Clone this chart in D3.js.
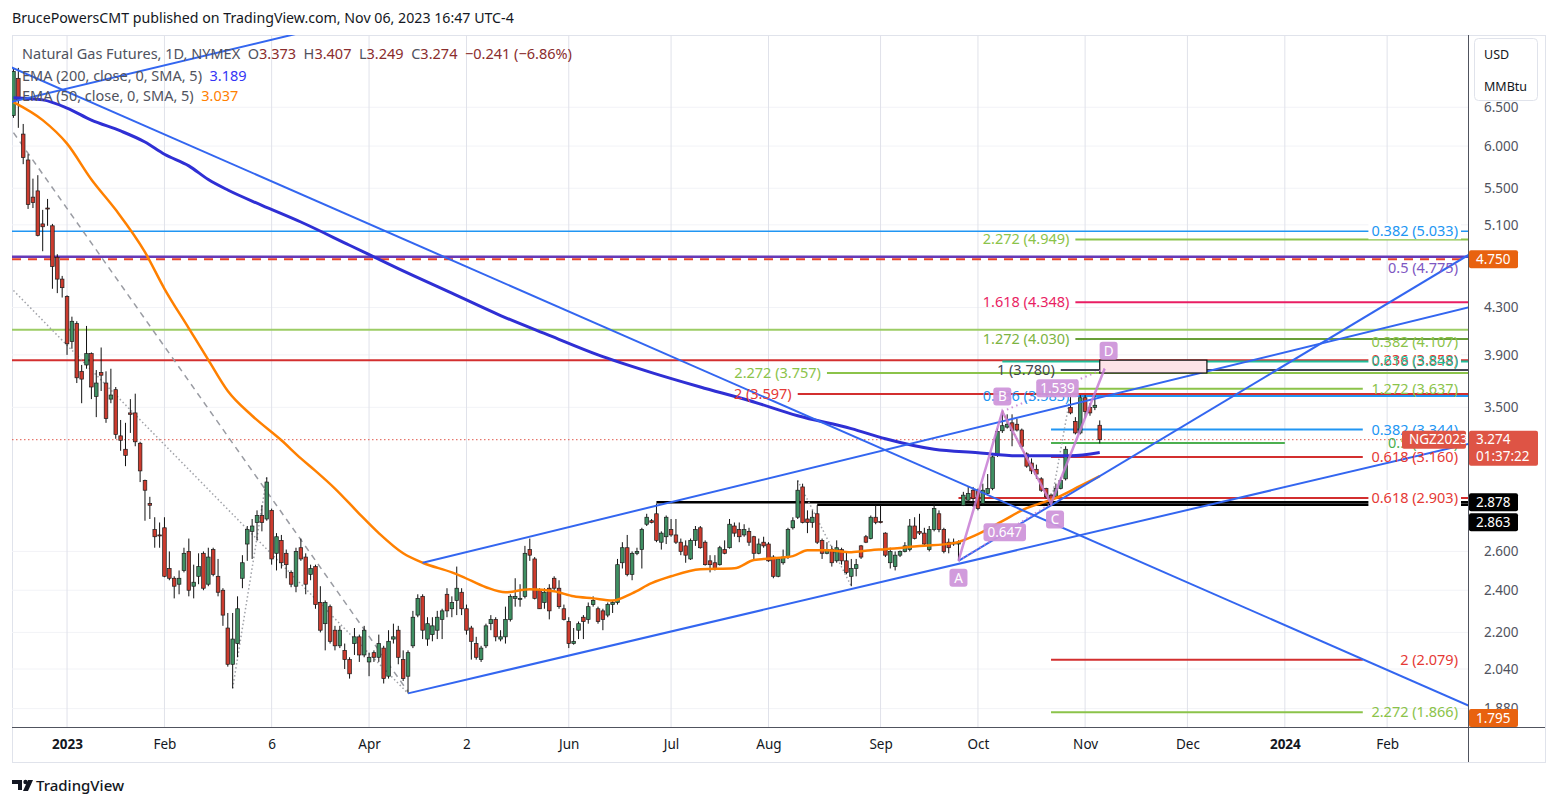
<!DOCTYPE html>
<html><head><meta charset="utf-8">
<script src="https://cdn.jsdelivr.net/npm/d3@7"></script>
<style>body{margin:0;background:#fff;}svg{display:block;}</style>
</head><body>
<svg id="c" width="1556" height="807"></svg>
<script>
// ---------------- DATA ----------------
const holidays = ["2022-12-26","2023-01-02","2023-01-16","2023-02-20","2023-04-07","2023-05-29","2023-06-19","2023-07-04","2023-09-04","2023-11-23","2023-12-25","2024-01-01","2024-01-15","2024-02-19"];
const firstDay = "2022-12-15", lastCalendarDay = "2024-03-15";

const open = [6.39,6.90,6.15,5.83,5.40,5.47,5.11,5.28,5.09,4.77,
4.56,4.40,4.01,4.16,3.77,3.82,3.91,3.58,3.76,3.68,
3.56,3.63,3.30,3.21,3.46,3.46,3.25,3.01,2.87,2.72,
2.69,2.73,2.51,2.46,2.43,2.50,2.60,2.42,2.47,2.59,
2.43,2.61,2.47,2.40,2.22,2.06,2.15,2.46,2.64,2.71,
2.76,2.80,2.78,2.83,2.59,2.66,2.59,2.49,2.42,2.62,
2.57,2.48,2.52,2.34,2.24,2.32,2.21,2.14,2.12,2.08,
2.15,2.18,2.10,2.07,2.11,2.09,2.13,2.01,2.17,2.21,
2.08,2.01,2.14,2.28,2.37,2.17,2.19,2.21,2.26,2.38,
2.31,2.35,2.39,2.31,2.22,2.15,2.08,2.14,2.24,2.26,
2.17,2.18,2.26,2.36,2.355,2.37,2.61,2.56,2.40,2.34,
2.41,2.46,2.41,2.31,2.25,2.15,2.21,2.27,2.26,2.33,
2.31,2.30,2.28,2.33,2.34,2.54,2.62,2.48,2.59,2.61,
2.75,2.77,2.81,2.65,2.68,2.72,2.69,2.65,2.63,2.56,
2.66,2.73,2.65,2.55,2.54,2.53,2.61,2.62,2.74,2.72,
2.69,2.71,2.68,2.59,2.65,2.64,2.57,2.47,2.54,2.57,
2.73,2.79,2.97,2.78,2.76,2.81,2.66,2.59,2.61,2.55,
2.61,2.55,2.47,2.51,2.63,2.68,2.67,2.79,2.765,2.70,
2.54,2.52,2.58,2.60,2.61,2.74,2.71,2.70,2.61,2.72,
2.81,2.72,2.65,2.65,2.64,2.86,2.89,2.95,2.95,2.87,
2.93,2.96,3.17,3.335,3.36,3.39,3.38,3.34,3.18,3.12,
3.08,3.02,2.96,2.92,2.91,2.96,3.02,3.50,3.40,3.32,
3.57,3.50,3.50,3.373];
const high = [7.05,7.05,6.28,5.90,5.61,5.65,5.26,5.38,5.11,4.80,
4.59,4.41,4.22,4.18,3.82,4.14,3.92,3.78,3.96,3.77,
3.79,3.65,3.41,3.39,3.56,3.60,3.26,3.015,2.91,2.79,
2.76,2.79,2.60,2.47,2.50,2.62,2.67,2.53,2.59,2.60,
2.62,2.62,2.56,2.41,2.29,2.29,2.37,2.58,2.74,2.78,
2.83,2.86,3.03,2.84,2.70,2.69,2.61,2.50,2.62,2.67,
2.59,2.53,2.53,2.42,2.35,2.33,2.23,2.23,2.15,2.09,
2.22,2.19,2.23,2.11,2.12,2.19,2.14,2.21,2.24,2.23,
2.12,2.12,2.30,2.38,2.38,2.27,2.27,2.30,2.31,2.41,
2.37,2.52,2.41,2.33,2.23,2.18,2.14,2.24,2.28,2.27,
2.21,2.32,2.38,2.46,2.43,2.63,2.67,2.57,2.41,2.41,
2.43,2.47,2.45,2.33,2.27,2.22,2.25,2.28,2.34,2.37,
2.32,2.31,2.34,2.35,2.56,2.65,2.69,2.60,2.62,2.73,
2.81,2.78,2.87,2.71,2.80,2.78,2.78,2.67,2.66,2.67,
2.74,2.74,2.66,2.58,2.58,2.63,2.66,2.78,2.76,2.76,
2.75,2.73,2.685,2.67,2.68,2.65,2.58,2.57,2.61,2.73,
2.79,3.01,2.99,2.83,2.83,2.86,2.67,2.65,2.63,2.66,
2.62,2.60,2.56,2.56,2.635,2.69,2.80,2.86,2.86,2.705,
2.62,2.60,2.605,2.65,2.78,2.79,2.81,2.73,2.74,2.87,
2.83,2.73,2.67,2.67,2.66,2.94,2.97,2.97,2.96,2.99,
3.05,3.17,3.35,3.47,3.45,3.45,3.42,3.35,3.19,3.15,
3.11,3.03,2.965,2.93,2.99,3.03,3.23,3.59,3.43,3.59,
3.59,3.53,3.59,3.407];
const low = [6.36,6.23,5.78,5.27,5.28,4.98,4.83,5.09,4.47,4.43,
4.39,3.90,3.95,3.68,3.53,3.79,3.56,3.43,3.62,3.39,
3.53,3.28,3.20,3.10,3.32,3.23,3.00,2.77,2.78,2.62,
2.62,2.465,2.45,2.36,2.38,2.49,2.37,2.36,2.43,2.40,
2.42,2.47,2.37,2.23,2.05,1.96,2.09,2.41,2.55,2.56,
2.66,2.71,2.77,2.53,2.50,2.51,2.46,2.415,2.39,2.55,
2.38,2.45,2.31,2.20,2.12,2.15,2.12,2.13,2.04,2.00,
2.10,2.07,2.09,2.01,2.07,2.07,1.98,2.00,2.15,2.06,
1.99,1.94,2.13,2.27,2.17,2.14,2.16,2.17,2.17,2.27,
2.27,2.28,2.28,2.19,2.08,2.08,2.07,2.13,2.21,2.16,
2.16,2.15,2.25,2.32,2.32,2.36,2.55,2.355,2.31,2.31,
2.26,2.40,2.31,2.255,2.13,2.145,2.17,2.17,2.24,2.32,
2.24,2.21,2.27,2.29,2.33,2.51,2.47,2.45,2.58,2.51,
2.74,2.755,2.65,2.61,2.64,2.68,2.64,2.58,2.54,2.555,
2.63,2.615,2.525,2.49,2.50,2.525,2.585,2.615,2.68,2.65,
2.68,2.63,2.55,2.585,2.62,2.545,2.46,2.465,2.53,2.56,
2.72,2.78,2.755,2.70,2.73,2.64,2.56,2.585,2.52,2.54,
2.53,2.48,2.42,2.47,2.56,2.645,2.665,2.75,2.755,2.57,
2.51,2.50,2.57,2.595,2.60,2.665,2.69,2.63,2.60,2.71,
2.705,2.59,2.59,2.63,2.55,2.855,2.88,2.85,2.83,2.86,
2.925,2.95,3.16,3.32,3.35,3.23,3.33,3.22,3.09,3.05,
3.02,2.94,2.90,2.87,2.90,2.955,3.01,3.45,3.31,3.31,
3.42,3.44,3.48,3.249];
const close = [7.00,6.60,5.86,5.32,5.34,4.99,5.08,5.27,4.68,4.56,
4.48,3.99,4.18,3.72,3.71,3.91,3.65,3.68,3.74,3.42,
3.59,3.31,3.27,3.17,3.45,3.26,3.07,2.95,2.86,2.68,
2.685,2.47,2.46,2.42,2.46,2.59,2.40,2.44,2.52,2.41,
2.57,2.48,2.39,2.28,2.06,2.17,2.31,2.54,2.72,2.74,
2.80,2.76,3.00,2.56,2.68,2.54,2.53,2.43,2.60,2.56,
2.43,2.51,2.33,2.21,2.34,2.16,2.14,2.21,2.08,2.02,
2.18,2.10,2.21,2.09,2.09,2.15,2.00,2.16,2.18,2.09,
2.00,2.11,2.27,2.36,2.21,2.24,2.23,2.27,2.30,2.30,
2.34,2.41,2.31,2.21,2.16,2.09,2.13,2.23,2.26,2.18,
2.18,2.26,2.37,2.37,2.36,2.59,2.58,2.36,2.31,2.39,
2.30,2.41,2.32,2.26,2.15,2.16,2.24,2.25,2.32,2.35,
2.25,2.26,2.33,2.34,2.53,2.62,2.48,2.59,2.60,2.72,
2.79,2.76,2.66,2.70,2.79,2.69,2.65,2.60,2.58,2.66,
2.72,2.62,2.53,2.53,2.51,2.62,2.59,2.75,2.70,2.68,
2.72,2.65,2.59,2.64,2.63,2.55,2.47,2.56,2.57,2.72,
2.77,2.95,2.76,2.76,2.79,2.65,2.59,2.61,2.54,2.62,
2.55,2.49,2.51,2.53,2.57,2.65,2.79,2.76,2.76,2.58,
2.60,2.58,2.60,2.63,2.74,2.67,2.70,2.64,2.72,2.84,
2.72,2.60,2.62,2.64,2.65,2.92,2.93,2.90,2.84,2.95,
2.96,3.16,3.33,3.37,3.38,3.335,3.34,3.23,3.10,3.07,
3.05,2.95,2.91,2.88,2.96,3.01,3.21,3.46,3.32,3.57,
3.47,3.46,3.515,3.274];

// moving averages: bar number (0 = first candle) and value
const ema50Bar = [0,6,11,16,21,27,31,36,40,44,49,55,59,62,66,71,75,80,84,90,92,97,101,106,111,115,119,123,127,131,135,141,148,152,156,160,163,167,172,176,179,186,193,198,203,208,211,214,219,223];
const ema50Val = [6.57,6.33,6.03,5.60,5.26,4.82,4.47,4.12,3.86,3.62,3.44,3.27,3.15,3.07,2.96,2.81,2.70,2.59,2.54,2.49,2.47,2.415,2.39,2.405,2.395,2.37,2.36,2.35,2.385,2.435,2.47,2.506,2.511,2.554,2.564,2.575,2.607,2.607,2.596,2.607,2.612,2.629,2.645,2.695,2.768,2.843,2.873,2.903,2.976,3.037];
const ema200Bar = [0,6,11,16,22,27,31,36,40,44,51,59,69,79,90,100,110,120,131,141,151,161,172,179,189,198,206,217,223];
const ema200Val = [6.63,6.60,6.49,6.33,6.19,6.05,5.90,5.76,5.60,5.48,5.31,5.13,4.89,4.66,4.43,4.23,4.06,3.90,3.76,3.65,3.55,3.44,3.35,3.28,3.21,3.187,3.167,3.167,3.189];

// price axis and time axis labels
const priceTicks = [6.5,6.0,5.5,5.1,4.3,3.9,3.5,2.6,2.4,2.2,2.04,1.88];
const timeTickDates = ["2023-01-03","2023-02-01","2023-03-06","2023-04-03","2023-05-02","2023-06-01","2023-07-03","2023-08-01","2023-09-01","2023-10-02","2023-11-01","2023-12-01","2024-01-02","2024-02-01"];
const timeTickLabels = ["2023","Feb","6","Apr","2","Jun","Jul","Aug","Sep","Oct","Nov","Dec","2024","Feb"];

// horizontal levels (price, label, start date, end date)
const levelPrice = [5.033,4.949,4.775,4.750,4.348,4.107,4.030,3.858,3.848,3.780,3.757,3.637,3.597,3.583,3.344,3.252,3.160,2.903,2.878,2.863,2.079,1.866];
const levelText  = ["0.382 (5.033)","2.272 (4.949)","0.5 (4.775)","","1.618 (4.348)","0.382 (4.107)","1.272 (4.030)","0.236 (3.858)","0.618 (3.848)","1 (3.780)","2.272 (3.757)","1.272 (3.637)","2 (3.597)","0.786 (3.583)","0.382 (3.344)","0.5 (3.252)","0.618 (3.160)","0.618 (2.903)","","","2 (2.079)","2.272 (1.866)"];
const levelFrom  = [null,"2023-10-30",null,null,"2023-10-30",null,"2023-10-30",null,"2023-10-09","2023-10-25","2023-08-17","2023-10-23","2023-08-09","2023-10-30","2023-10-23","2023-10-23","2023-10-23","2023-09-26","2023-06-28","2023-08-15","2023-10-23","2023-10-23"];
const levelTo    = [null,null,null,null,null,null,null,null,null,null,null,"2024-01-25",null,null,"2024-01-25","2024-01-02","2024-01-25",null,null,null,"2024-01-25","2024-01-25"];

// trend lines: two anchors [date, price]
const trendA = [["2022-12-15",6.58],["2022-12-15",7.045],["2023-04-14",1.94],["2023-04-19",2.54],["2023-09-26",2.55]];
const trendB = [["2023-02-15",7.26],["2023-11-06",2.640],["2023-11-06",2.714],["2023-11-06",3.572],["2023-11-06",3.037]];
const greyDashA = ["2022-12-15",6.169], greyDashB = ["2023-04-14",1.947];
const dottedA = [["2022-12-15",4.454],["2023-02-22",1.96],["2023-08-09",3.01],["2023-10-23",2.87]];
const dottedB = [["2023-04-14",1.94],["2023-03-03",3.03],["2023-08-24",2.42],["2023-10-27",3.59]];

// ABCD pattern
const patternNames = ["A","B","C","D"];
const patternDates = ["2023-09-26","2023-10-09","2023-10-23","2023-11-07"];
const patternPrices = [2.55,3.47,2.87,3.79];
const patternRatios = ["0.647","1.539"];
const boxFrom = ["2023-11-06",3.858], boxTo = ["2023-12-07",3.757];

const lastPrice = 3.274, prevChange = -0.241, prevChangePct = -6.86;
const ema200Last = 3.189, ema50Last = 3.037;
const alertLevels = [4.750, 1.795];
const hlineLabels = [2.878, 2.863];

// ---------------- CHART ----------------
function buildCalendar(start, end) {
  const parse = d3.utcParse("%Y-%m-%d"), fmt = d3.utcFormat("%Y-%m-%d"), out = [];
  for (let d = parse(start); d <= parse(end); d = d3.utcDay.offset(d, 1)) {
    const w = d.getUTCDay(), s = fmt(d);
    if (w !== 0 && w !== 6 && !holidays.includes(s)) out.push(s);
  }
  return out;
}
const calendar = buildCalendar(firstDay, lastCalendarDay);
const base = calendar.indexOf("2023-01-03");
const bar = d => calendar.indexOf(d) - base;
const N = open.length;

const FONT = "'Noto Sans','DejaVu Sans',sans-serif";
const P = {l: 12, r: 1468, t: 35, b: 727};
const x = d3.scaleLinear().domain([-11.3, 287.6]).range([P.l, P.r]);
const y = d3.scaleLog().domain([1.810, 7.545]).range([P.b, P.t]);
const xd = d => x(bar(d));
const xb = i => x(i - 11);

const svg = d3.select("#c").style("font-family", FONT);
svg.append("rect").attr("width", 1556).attr("height", 807).attr("fill", "#fff");
svg.append("defs").append("clipPath").attr("id", "pc").append("rect")
  .attr("x", P.l).attr("y", P.t).attr("width", P.r - P.l).attr("height", P.b - P.t);

// frame
svg.append("rect").attr("x", P.l + 0.5).attr("y", P.t + 0.5).attr("width", 1545 - P.l).attr("height", 762 - P.t)
  .attr("fill", "none").attr("stroke", "#e0e3eb");

const g = svg.append("g").attr("clip-path", "url(#pc)");

// grid
g.append("g").selectAll("line").data(priceTicks).join("line")
  .attr("x1", P.l).attr("x2", P.r).attr("y1", d => y(d)).attr("y2", d => y(d))
  .attr("stroke", "#f2f3f7");
g.append("g").selectAll("line").data(timeTickDates).join("line")
  .attr("x1", d => xd(d)).attr("x2", d => xd(d)).attr("y1", P.t).attr("y2", P.b)
  .attr("stroke", "#e0e2ea");

// level styles
const lvStyle = [
  {c:"#2196f3", w:1.5, side:"R", bg:true},
  {c:"#8bc34a", w:2, side:"L"},
  {c:"#673ab7", w:2.5, side:"R", dy:11, tc:"#7e57c2"},
  {c:"#e8452a", w:2, dash:"9,7"},
  {c:"#e91e63", w:2, side:"L"},
  {c:"#9ccc65", w:2, side:"R", dy:12, tc:"#8bc34a"},
  {c:"#689f38", w:2, side:"L", tc:"#7cb342"},
  {c:"#d32f2f", w:2, side:"R", bg:true, tc:"#e53935"},
  {c:"#1fbf9a", w:2, side:"R", bg:false, tc:"#1fbf9a"},
  {c:"#434651", w:2, side:"L"},
  {c:"#8bc34a", w:2, side:"L"},
  {c:"#8bc34a", w:2, side:"R"},
  {c:"#d32f2f", w:2, side:"L", tc:"#e53935"},
  {c:"#2196f3", w:2, side:"L"},
  {c:"#2196f3", w:2, side:"R"},
  {c:"#4caf50", w:2, side:"R"},
  {c:"#d32f2f", w:2, side:"R", tc:"#e53935"},
  {c:"#d32f2f", w:2, side:"R", bg:true, tc:"#e53935"},
  {c:"#000", w:2.5},
  {c:"#000", w:2.5},
  {c:"#d32f2f", w:2, side:"R", tc:"#e53935"},
  {c:"#8bc34a", w:2, side:"R"}
];
const levels = levelPrice.map((p, i) => ({p, t: levelText[i], f: levelFrom[i], to: levelTo[i], s: lvStyle[i]}));
const lg = g.append("g");
levels.forEach(L => {
  const x1 = L.f ? xd(L.f) : P.l, x2 = L.to ? xd(L.to) : P.r;
  lg.append("line").attr("x1", x1).attr("x2", x2).attr("y1", y(L.p)).attr("y2", y(L.p))
    .attr("stroke", L.s.c).attr("stroke-width", L.s.w).attr("stroke-dasharray", L.s.dash || null);
});
// current price dotted line
g.append("line").attr("x1", P.l).attr("x2", P.r).attr("y1", y(lastPrice)).attr("y2", y(lastPrice))
  .attr("stroke", "#e0574a").attr("stroke-width", 1).attr("stroke-dasharray", "1.5,2.5");

// grey dashed & dotted helper lines
g.append("line").attr("x1", xd(greyDashA[0])).attr("y1", y(greyDashA[1])).attr("x2", xd(greyDashB[0])).attr("y2", y(greyDashB[1]))
  .attr("stroke", "#9a9ca3").attr("stroke-width", 1.5).attr("stroke-dasharray", "6,5");
dottedA.forEach((a, i) => {
  const b = dottedB[i];
  g.append("line").attr("x1", xd(a[0])).attr("y1", y(a[1])).attr("x2", xd(b[0])).attr("y2", y(b[1]))
    .attr("stroke", "#a0a2a8").attr("stroke-width", 1.5).attr("stroke-dasharray", "1.5,2.5");
});

// candles
const cg = g.append("g");
const bw = 3.6;
cg.selectAll("line").data(d3.range(N)).join("line")
  .attr("x1", i => xb(i)).attr("x2", i => xb(i)).attr("y1", i => y(high[i])).attr("y2", i => y(low[i]))
  .attr("stroke", "#111").attr("stroke-width", 1);
cg.selectAll("rect").data(d3.range(N)).join("rect")
  .attr("x", i => xb(i) - bw / 2).attr("width", bw)
  .attr("y", i => y(Math.max(open[i], close[i])))
  .attr("height", i => Math.max(1, y(Math.min(open[i], close[i])) - y(Math.max(open[i], close[i]))))
  .attr("fill", i => close[i] >= open[i] ? "#3f8f62" : "#cc3b2e")
  .attr("stroke", "#1b1b1b").attr("stroke-width", 0.7);

// EMAs
const line = d3.line().x(d => xb(d[0])).y(d => y(d[1])).curve(d3.curveMonotoneX);
g.append("path").datum(ema200Bar.map((b, i) => [b, ema200Val[i]])).attr("d", line)
  .attr("fill", "none").attr("stroke", "#2f2fd4").attr("stroke-width", 3);
g.append("path").datum(ema50Bar.map((b, i) => [b, ema50Val[i]])).attr("d", line)
  .attr("fill", "none").attr("stroke", "#ff8000").attr("stroke-width", 2.5);

// trend lines
const extend = [[true, true], [true, true], [false, true], [false, true], [false, true]];
trendA.forEach((a, i) => {
  const b = trendB[i];
  const x1 = xd(a[0]), y1 = y(a[1]), x2 = xd(b[0]), y2 = y(b[1]);
  const m = (y2 - y1) / (x2 - x1);
  const xa = extend[i][0] ? P.l - 20 : x1, xz = extend[i][1] ? P.r + 20 : x2;
  g.append("line").attr("x1", xa).attr("y1", y1 + m * (xa - x1)).attr("x2", xz).attr("y2", y1 + m * (xz - x1))
    .attr("stroke", "#3366f0").attr("stroke-width", 2);
});

// rectangle
g.append("rect").attr("x", xd(boxFrom[0])).attr("y", y(boxFrom[1]))
  .attr("width", xd(boxTo[0]) - xd(boxFrom[0])).attr("height", y(boxTo[1]) - y(boxFrom[1]))
  .attr("fill", "#fde4e8").attr("stroke", "#111").attr("stroke-width", 1.2);

// ABCD pattern
const pts = patternDates.map((d, i) => [xd(d), y(patternPrices[i])]);
const pc = "#c77dd3";
g.append("line").attr("x1", pts[1][0]).attr("y1", pts[1][1]).attr("x2", pts[2][0]).attr("y2", pts[2][1])
  .attr("stroke", "#ff9800").attr("stroke-width", 1.5).attr("stroke-dasharray", "2,3");
g.append("path").attr("d", d3.line()(pts)).attr("fill", "none").attr("stroke", pc).attr("stroke-width", 2.5).attr("opacity", 0.85);
[[0, 2], [1, 3]].forEach(([a, b]) => {
  g.append("line").attr("x1", pts[a][0]).attr("y1", pts[a][1]).attr("x2", pts[b][0]).attr("y2", pts[b][1])
    .attr("stroke", pc).attr("stroke-width", 2).attr("stroke-dasharray", "1.5,3.5").attr("opacity", 0.85);
});

// level labels
const tl = svg.append("g").attr("font-size", 14.5);
levels.forEach(L => {
  if (!L.t) return;
  const yy = y(L.p) + (L.s.dy || 0);
  let tx, anchor;
  if (L.s.side === "L") { tx = xd(L.f) - 6; anchor = "end"; }
  else { tx = 1458; anchor = "end"; }
  const t = tl.append("text").attr("x", tx).attr("y", yy).attr("dy", "0.35em").attr("text-anchor", anchor)
    .attr("fill", L.s.tc || L.s.c).text(L.t);
  if (L.s.bg) {
    const w = t.node().getComputedTextLength();
    tl.insert("rect", () => t.node()).attr("x", tx - w - 3).attr("y", yy - 8).attr("width", w + 6).attr("height", 16).attr("fill", "#fff");
  }
});

// pattern labels
const plg = svg.append("g").attr("font-size", 13.5);
const boxLabel = (cx, cy, txt) => {
  const t = plg.append("text").attr("x", cx).attr("y", cy).attr("dy", "0.36em").attr("text-anchor", "middle").attr("fill", "#fff").text(txt);
  const w = Math.max(18, t.node().getComputedTextLength() + 8);
  plg.insert("rect", () => t.node()).attr("x", cx - w / 2).attr("y", cy - 9).attr("width", w).attr("height", 18).attr("rx", 3)
    .attr("fill", "#cf96da").attr("opacity", 0.95);
};
const off = [17, -15, 16, -18];
pts.forEach((p, i) => boxLabel(p[0] + (i === 2 ? 4 : i === 3 ? 4 : 0), p[1] + off[i], patternNames[i]));
boxLabel((pts[0][0] + pts[2][0]) / 2, (pts[0][1] + pts[2][1]) / 2, patternRatios[0]);
boxLabel((pts[1][0] + pts[3][0]) / 2 + 4, (pts[1][1] + pts[3][1]) / 2 - 2, patternRatios[1]);

// axes lines
svg.append("line").attr("x1", P.l).attr("x2", 1545).attr("y1", P.b + 0.5).attr("y2", P.b + 0.5).attr("stroke", "#50535e");
svg.append("line").attr("x1", P.r + 0.5).attr("x2", P.r + 0.5).attr("y1", P.t).attr("y2", 762).attr("stroke", "#50535e");

// price axis
const ya = svg.append("g").attr("transform", `translate(${P.r},0)`)
  .call(d3.axisRight(y).tickValues(priceTicks).tickFormat(d3.format(".3f")).tickSize(0).tickPadding(16));
ya.select(".domain").remove();
ya.selectAll("text").attr("font-family", FONT).attr("font-size", 13.5).attr("fill", "#50535e");

// time axis
const xa = svg.append("g").attr("transform", `translate(0,${P.b})`)
  .call(d3.axisBottom(x).tickValues(timeTickDates.map(bar)).tickFormat((d, i) => timeTickLabels[i]).tickSize(0).tickPadding(12));
xa.select(".domain").remove();
xa.selectAll("text").attr("font-family", FONT).attr("font-size", 13.5).attr("fill", "#131722")
  .attr("font-weight", (d, i) => /^\d{4}$/.test(timeTickLabels[i]) ? 700 : 400);

// axis price labels
const tag = (yy, h, w, xx, fill, lines) => {
  svg.append("rect").attr("x", xx).attr("y", yy).attr("width", w).attr("height", h).attr("rx", 2).attr("fill", fill);
  lines.forEach((s, k) => svg.append("text").attr("x", xx + 7).attr("y", yy + 13.5 + k * 17).attr("font-size", 13.5)
    .attr("fill", "#fff").text(s));
};
tag(y(alertLevels[0]) - 9, 18, 49, P.r + 1, "#e8620f", [alertLevels[0].toFixed(3)]);
tag(y(lastPrice) - 9, 35, 69, P.r + 1, "#de5445", [lastPrice.toFixed(3), "01:37:22"]);
tag(y(lastPrice) - 9, 18, 64, 1402, "#de5445", ["NGZ2023"]);
tag(y(hlineLabels[0]) - 9, 18, 49, P.r + 1, "#000", [hlineLabels[0].toFixed(3)]);
tag(y(hlineLabels[0]) + 11, 18, 49, P.r + 1, "#000", [hlineLabels[1].toFixed(3)]);
tag(P.b - 18, 18, 49, P.r + 1, "#e8620f", [alertLevels[1].toFixed(3)]);

// unit box
svg.append("rect").attr("x", 1474.5).attr("y", 38.5).attr("width", 63).attr("height", 62).attr("rx", 4)
  .attr("fill", "#fff").attr("stroke", "#e0e3eb");
svg.append("text").attr("x", 1484).attr("y", 59).attr("font-size", 12.5).attr("fill", "#131722").text("USD");
svg.append("text").attr("x", 1484).attr("y", 91).attr("font-size", 12.5).attr("fill", "#131722").text("MMBtu");

// header
svg.append("text").attr("x", 12).attr("y", 23).attr("font-size", 14.2).attr("fill", "#131722")
  .text("BrucePowersCMT published on TradingView.com, Nov 06, 2023 16:47 UTC-4");

// legend
const grey = "#50535e", val = "#8a2d2d";
const l1 = svg.append("text").attr("x", 22).attr("y", 59).attr("font-size", 14.5).style("white-space", "pre");
[["Natural Gas Futures, 1D, NYMEX  O", grey], [open[N-1].toFixed(3), val], ["  H", grey], [high[N-1].toFixed(3), val],
 ["  L", grey], [low[N-1].toFixed(3), val], ["  C", grey], [close[N-1].toFixed(3), val],
 [`  \u2212${Math.abs(prevChange).toFixed(3)} (\u2212${Math.abs(prevChangePct).toFixed(2)}%)`, val]]
  .forEach(([s, c]) => l1.append("tspan").attr("fill", c).text(s));
const l2 = svg.append("text").attr("x", 22).attr("y", 81).attr("font-size", 14.5).style("white-space", "pre");
l2.append("tspan").attr("fill", grey).text("EMA (200, close, 0, SMA, 5)  ");
l2.append("tspan").attr("fill", "#3535f5").text(ema200Last.toFixed(3));
const l3 = svg.append("text").attr("x", 22).attr("y", 101).attr("font-size", 14.5).style("white-space", "pre");
l3.append("tspan").attr("fill", grey).text("EMA (50, close, 0, SMA, 5)  ");
l3.append("tspan").attr("fill", "#ff8000").text(ema50Last.toFixed(3));

// footer logo
const lgo = svg.append("g").attr("fill", "#131722");
lgo.append("path").attr("d", "M12,780 h10 v10 h-4 v-6 h-6 z");
lgo.append("circle").attr("cx", 25.5).attr("cy", 782).attr("r", 2.2);
lgo.append("path").attr("d", "M28,780 h5 l-5,11 h-5 z");
svg.append("text").attr("x", 36).attr("y", 791).attr("font-size", 15).attr("font-weight", 500).attr("fill", "#131722").text("TradingView");
</script>
</body></html>
